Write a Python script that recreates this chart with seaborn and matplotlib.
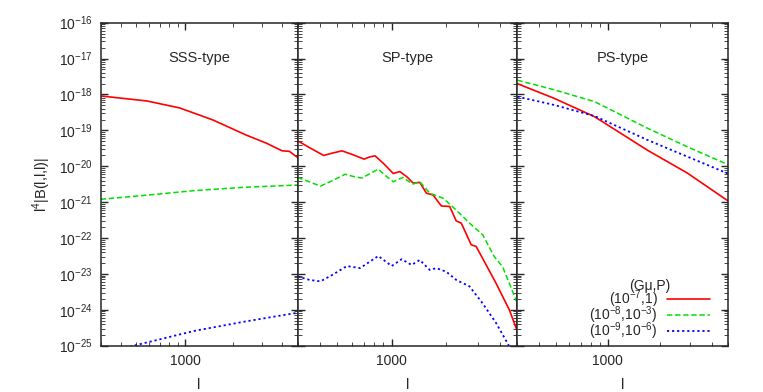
import numpy as np
import pandas as pd
import matplotlib
matplotlib.use("Agg")
import matplotlib.pyplot as plt
import matplotlib.ticker as mticker
import seaborn as sns

# ---- data (l, l^4 |B(l,l,l)|) ----
PANEL_TITLES = ["SSS-type", "SP-type", "PS-type"]
SERIES_LABELS = ["(10$^{-7}$,1)",
                 "(10$^{-8}$,10$^{-3}$)",
                 "(10$^{-9}$,10$^{-6}$)"]

# SSS-type
sss_red_l = [300, 580, 930, 1490, 2400, 3200, 4000, 4450, 5000]
sss_red_b = [9.1e-19, 6.6e-19, 4.2e-19, 1.95e-19, 7.4e-20, 4.4e-20, 2.7e-20, 2.6e-20, 1.75e-20]
sss_green_l = [300, 610, 1150, 2350, 5000]
sss_green_b = [1.2e-21, 1.6e-21, 2.1e-21, 2.6e-21, 3.0e-21]
sss_blue_l = [300, 480, 1150, 2350, 5000]
sss_blue_b = [5.6e-26, 1.0e-25, 2.6e-25, 4.7e-25, 8.3e-25]

# SP-type
sp_red_l = [300, 355, 419, 470, 530, 610, 703, 755, 809, 900, 1020, 1111, 1220, 1316,
            1433, 1560, 1698, 1889, 2100, 2285, 2437, 2767, 2950, 3350, 3803, 4506, 5000]
sp_red_b = [5.13e-20, 3.16e-20, 2.0e-20, 2.34e-20, 2.69e-20, 2.09e-20, 1.58e-20, 1.82e-20,
            1.95e-20, 1.2e-20, 6.3e-21, 7.1e-21, 5.0e-21, 3.4e-21, 3.55e-21, 1.78e-21,
            1.58e-21, 7.8e-22, 7.6e-22, 3.0e-22, 2.6e-22, 6.5e-23, 5.8e-23, 1.78e-23,
            5.5e-24, 1.0e-24, 2.5e-25]
sp_green_l = [300, 355, 402, 470, 552, 620, 683, 760, 843, 920, 1020, 1111, 1159, 1240,
              1316, 1433, 1628, 1929, 2285, 2708, 3206, 3722, 4137, 5000]
sp_green_b = [4.9e-21, 3.55e-21, 2.8e-21, 4.0e-21, 6.0e-21, 5.1e-21, 4.7e-21, 6.3e-21,
              8.3e-21, 5.6e-21, 3.7e-21, 4.5e-21, 4.9e-21, 3.8e-21, 3.2e-21, 3.7e-21,
              1.78e-21, 1.29e-21, 6.0e-22, 2.6e-22, 1.23e-22, 3.0e-23, 1.58e-23, 1.5e-24]
sp_blue_l = [300, 350, 402, 470, 564, 668, 760, 843, 1000, 1136, 1290, 1433, 1628, 1773,
             2013, 2285, 2708, 3206, 3803, 4406, 4800]
sp_blue_b = [8.5e-24, 6.8e-24, 6.2e-24, 9.5e-24, 1.66e-23, 1.45e-23, 2.24e-23, 3.16e-23,
             1.66e-23, 2.57e-23, 1.78e-23, 2.45e-23, 1.29e-23, 1.45e-23, 1.15e-23, 6.8e-24,
             4.5e-24, 1.5e-24, 4.3e-25, 1.17e-25, 5.0e-26]

# PS-type
ps_l = [300, 490, 840, 1700, 2890, 5000]
ps_red_b = [2.0e-18, 7.8e-19, 2.4e-19, 2.8e-20, 6.5e-21, 1.07e-21]
ps_green_b = [2.5e-18, 1.35e-18, 6.3e-19, 1.15e-19, 3.5e-20, 1.1e-20]
ps_blue_b = [8.7e-19, 5.1e-19, 2.5e-19, 5.4e-20, 1.86e-20, 6.2e-21]

panels = [
    [(sss_red_l, sss_red_b), (sss_green_l, sss_green_b), (sss_blue_l, sss_blue_b)],
    [(sp_red_l, sp_red_b), (sp_green_l, sp_green_b), (sp_blue_l, sp_blue_b)],
    [(ps_l, ps_red_b), (ps_l, ps_green_b), (ps_l, ps_blue_b)],
]

COLORS = ["#ff0000", "#00e000", "#0000ff"]
STYLES = ["-", (0, (3.5, 1.8)), (0, (1.2, 1.6))]
WIDTHS = [1.2, 1.1, 1.3]

sns.set_style("ticks")
plt.rcParams["font.family"] = ["Liberation Sans", "DejaVu Sans"]
plt.rcParams["mathtext.fontset"] = "custom"
plt.rcParams["mathtext.rm"] = "Liberation Sans"
plt.rcParams["font.size"] = 10

W, H = 763, 392
fig = plt.figure(figsize=(W / 100, H / 100), dpi=100)
gs = fig.add_gridspec(1, 3, width_ratios=[197, 220, 211], wspace=0,
                      left=100.7 / W, right=728.3 / W,
                      bottom=1 - 345.7 / H, top=1 - 22.7 / H)

axes = []
for i in range(3):
    ax = fig.add_subplot(gs[0, i], sharey=axes[0] if axes else None)
    axes.append(ax)
    for j, (lx, by) in enumerate(panels[i]):
        df = pd.DataFrame({"l": lx, "B": by})
        sns.lineplot(data=df, x="l", y="B", ax=ax, color=COLORS[j],
                     linestyle=STYLES[j], linewidth=WIDTHS[j], estimator=None,
                     sort=False, label=SERIES_LABELS[j], legend=False)
    ax.set_xscale("log")
    ax.set_yscale("log")
    ax.set_xlim(300, 5000)
    ax.set_ylim(1e-25, 1e-16)

    ax.xaxis.set_major_locator(mticker.FixedLocator([1000]))
    ax.xaxis.set_major_formatter(mticker.FuncFormatter(lambda v, p: f"{v:.0f}"))
    ax.xaxis.set_minor_locator(mticker.LogLocator(base=10, subs=np.arange(2, 10), numticks=20))
    ax.xaxis.set_minor_formatter(mticker.NullFormatter())
    ax.yaxis.set_major_locator(mticker.LogLocator(base=10, numticks=20))
    ax.yaxis.set_minor_locator(mticker.LogLocator(base=10, subs=np.arange(2, 10), numticks=20))
    ax.yaxis.set_minor_formatter(mticker.NullFormatter())

    ax.tick_params(which="both", direction="in", top=True, right=True,
                   labelsize=10, pad=6)
    ax.tick_params(which="major", length=5, width=1.0)
    ax.tick_params(which="minor", length=2.7, width=0.6)
    for s in ax.spines.values():
        s.set_linewidth(1.1)
    ax.set_xlabel("l", fontsize=10.5, labelpad=7)
    ax.set_ylabel("")
    if i > 0:
        ax.tick_params(axis="y", labelleft=False)
    ax.text(0.5, 0.89, PANEL_TITLES[i], transform=ax.transAxes, ha="center",
            va="center", fontsize=10.5)

axes[0].set_ylabel("l$^4$|B(l,l,l)|", fontsize=10.5, labelpad=4)

# legend inside the last panel, text before the line sample (gnuplot style)
h, lab = axes[2].get_legend_handles_labels()
leg = axes[2].legend(h, lab, title="(G\u03bc,P)", loc="lower right",
                     bbox_to_anchor=(0.915, 0.012), frameon=False, markerfirst=False,
                     handlelength=3.1, handletextpad=0.7, labelspacing=-0.42,
                     borderpad=0, borderaxespad=0, fontsize=10, title_fontsize=10)
leg._legend_box.sep = -3

fig.savefig("out.png", dpi=100)
